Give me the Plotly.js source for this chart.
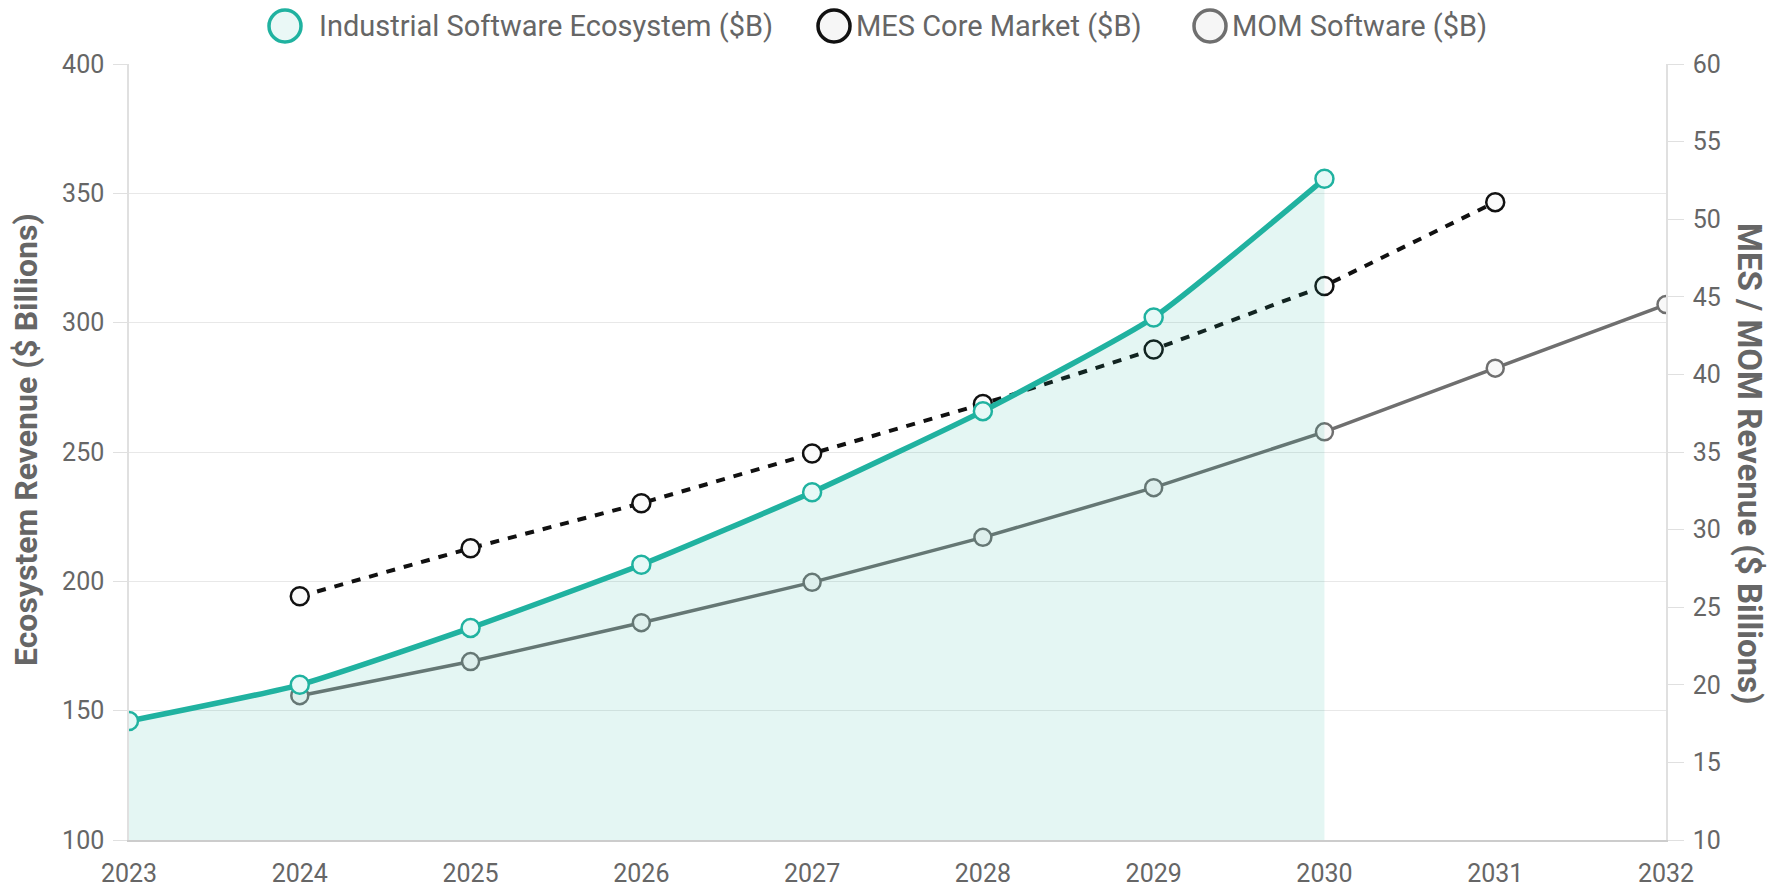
<!DOCTYPE html>
<html>
<head>
<meta charset="utf-8">
<script src="https://cdn.plot.ly/plotly-3.0.1.min.js"></script>
<style>
  html, body { margin: 0; padding: 0; background: #ffffff; }
  #chart { width: 1770px; height: 892px; }
</style>
</head>
<body>
<div id="chart"></div>
<script>
// ---- data ----
const yearTicks = [2023, 2024, 2025, 2026, 2027, 2028, 2029, 2030, 2031, 2032];
const ecoYears = [2023, 2024, 2025, 2026, 2027, 2028, 2029, 2030];
const ecosystem = [146, 160, 182, 206.4, 234.4, 265.8, 302, 355.6];
const mesYears = [2024, 2025, 2026, 2027, 2028, 2029, 2030, 2031];
const mesCore = [25.7, 28.8, 31.7, 34.9, 38.1, 41.6, 45.7, 51.1];
const momYears = [2024, 2025, 2026, 2027, 2028, 2029, 2030, 2031, 2032];
const momSoftware = [19.3, 21.5, 24.0, 26.6, 29.5, 32.7, 36.3, 40.4, 44.5];
const seriesNames = ['Industrial Software Ecosystem ($B)', 'MES Core Market ($B)', 'MOM Software ($B)'];
const seriesColors = ['#20b2a0', '#111111', '#6f6f6f'];
const seriesFills = ['#eaf8f6', '#f6f6f6', '#f6f6f6'];
const leftTitle = 'Ecosystem Revenue ($ Billions)';
const rightTitle = 'MES / MOM Revenue ($ Billions)';

const FONT = 'Roboto, "Noto Sans", sans-serif';
const TEXT = '#666666';

const traces = [
  {
    name: seriesNames[2], x: momYears, y: momSoftware, yaxis: 'y',
    type: 'scatter', mode: 'lines+markers', showlegend: false,
    line: { color: seriesColors[2], width: 3.5 },
    marker: { size: 17, color: '#f8f8f8', line: { color: seriesColors[2], width: 2.5 } }
  },
  {
    name: seriesNames[1], x: mesYears, y: mesCore, yaxis: 'y',
    type: 'scatter', mode: 'lines+markers', showlegend: false,
    line: { color: seriesColors[1], width: 4, dash: '9px,9px' },
    marker: { size: 18, color: '#fafafa', line: { color: seriesColors[1], width: 2.5 } }
  },
  {
    name: seriesNames[0], x: ecoYears, y: ecosystem, yaxis: 'y2',
    type: 'scatter', mode: 'lines+markers', showlegend: false,
    line: { color: seriesColors[0], width: 5.5, shape: 'spline', smoothing: 0.5 },
    fill: 'tozeroy', fillcolor: 'rgba(32,178,160,0.12)',
    marker: { size: 18, color: '#e6f9f7', line: { color: seriesColors[0], width: 2.5 } }
  }
];

// custom legend (large circles + text), positioned in paper coordinates
const PLOT_L = 129, PLOT_W = 1537, PLOT_T = 64, PLOT_H = 776;
const px2x = p => (p - PLOT_L) / PLOT_W;
const legendY = 1 + (PLOT_T - 26) / PLOT_H;
const legendCircleX = [285, 834, 1210];
const legendTextX = [317, 854, 1230];

const shapes = seriesNames.map((n, i) => ({
  type: 'circle', xref: 'paper', yref: 'paper',
  xsizemode: 'pixel', ysizemode: 'pixel',
  xanchor: px2x(legendCircleX[i]), yanchor: legendY,
  x0: -16, x1: 16, y0: -16, y1: 16,
  line: { color: seriesColors[i], width: 3.5 }, fillcolor: seriesFills[i]
}));

const legendText = seriesNames.map((n, i) => ({
  text: n, xref: 'paper', yref: 'paper',
  x: px2x(legendTextX[i]), y: legendY, xanchor: 'left', yanchor: 'middle',
  showarrow: false, font: { family: FONT, size: 29, color: TEXT }
}));

const layout = {
  width: 1770, height: 892,
  margin: { l: 129, r: 104, t: 64, b: 52 },
  paper_bgcolor: '#ffffff', plot_bgcolor: '#ffffff',
  font: { family: FONT, color: TEXT, size: 24 },
  showlegend: false,
  xaxis: {
    range: [2023, 2032], tickvals: yearTicks, ticktext: yearTicks.map(String),
    showgrid: false, zeroline: false, showline: true, linecolor: '#cccccc', linewidth: 1.5,
    ticks: '', ticklabelstandoff: 10,
    tickfont: { family: FONT, size: 25, color: TEXT }
  },
  yaxis2: {
    range: [100, 400], dtick: 50, side: 'left', overlaying: 'y',
    showgrid: true, gridcolor: '#e8e8e8', gridwidth: 1, zeroline: false,
    showline: true, linecolor: '#e0e0e0', linewidth: 1.5,
    ticks: 'outside', ticklen: 14, tickcolor: '#e0e0e0', ticklabelstandoff: 4,
    tickfont: { family: FONT, size: 25, color: TEXT }
  },
  yaxis: {
    range: [10, 60], dtick: 5, side: 'right',
    showgrid: false, zeroline: false,
    showline: true, linecolor: '#e0e0e0', linewidth: 1.5,
    ticks: 'outside', ticklen: 16, tickcolor: '#e0e0e0', ticklabelstandoff: 4,
    tickfont: { family: FONT, size: 25, color: TEXT }
  },
  shapes: shapes,
  annotations: legendText.concat([
    {
      text: '<b>' + leftTitle + '</b>', xref: 'paper', yref: 'paper',
      x: 0, y: 0.5, xanchor: 'center', yanchor: 'middle', xshift: -103, yshift: 12,
      textangle: -90, showarrow: false,
      font: { family: FONT, size: 32, color: TEXT }
    },
    {
      text: '<b>' + rightTitle + '</b>', xref: 'paper', yref: 'paper',
      x: 1, y: 0.5, xanchor: 'center', yanchor: 'middle', xshift: 84, yshift: -12,
      textangle: 90, showarrow: false,
      font: { family: FONT, size: 33, color: TEXT }
    }
  ])
};

Plotly.newPlot('chart', traces, layout, { displayModeBar: false, responsive: false });
</script>
</body>
</html>
